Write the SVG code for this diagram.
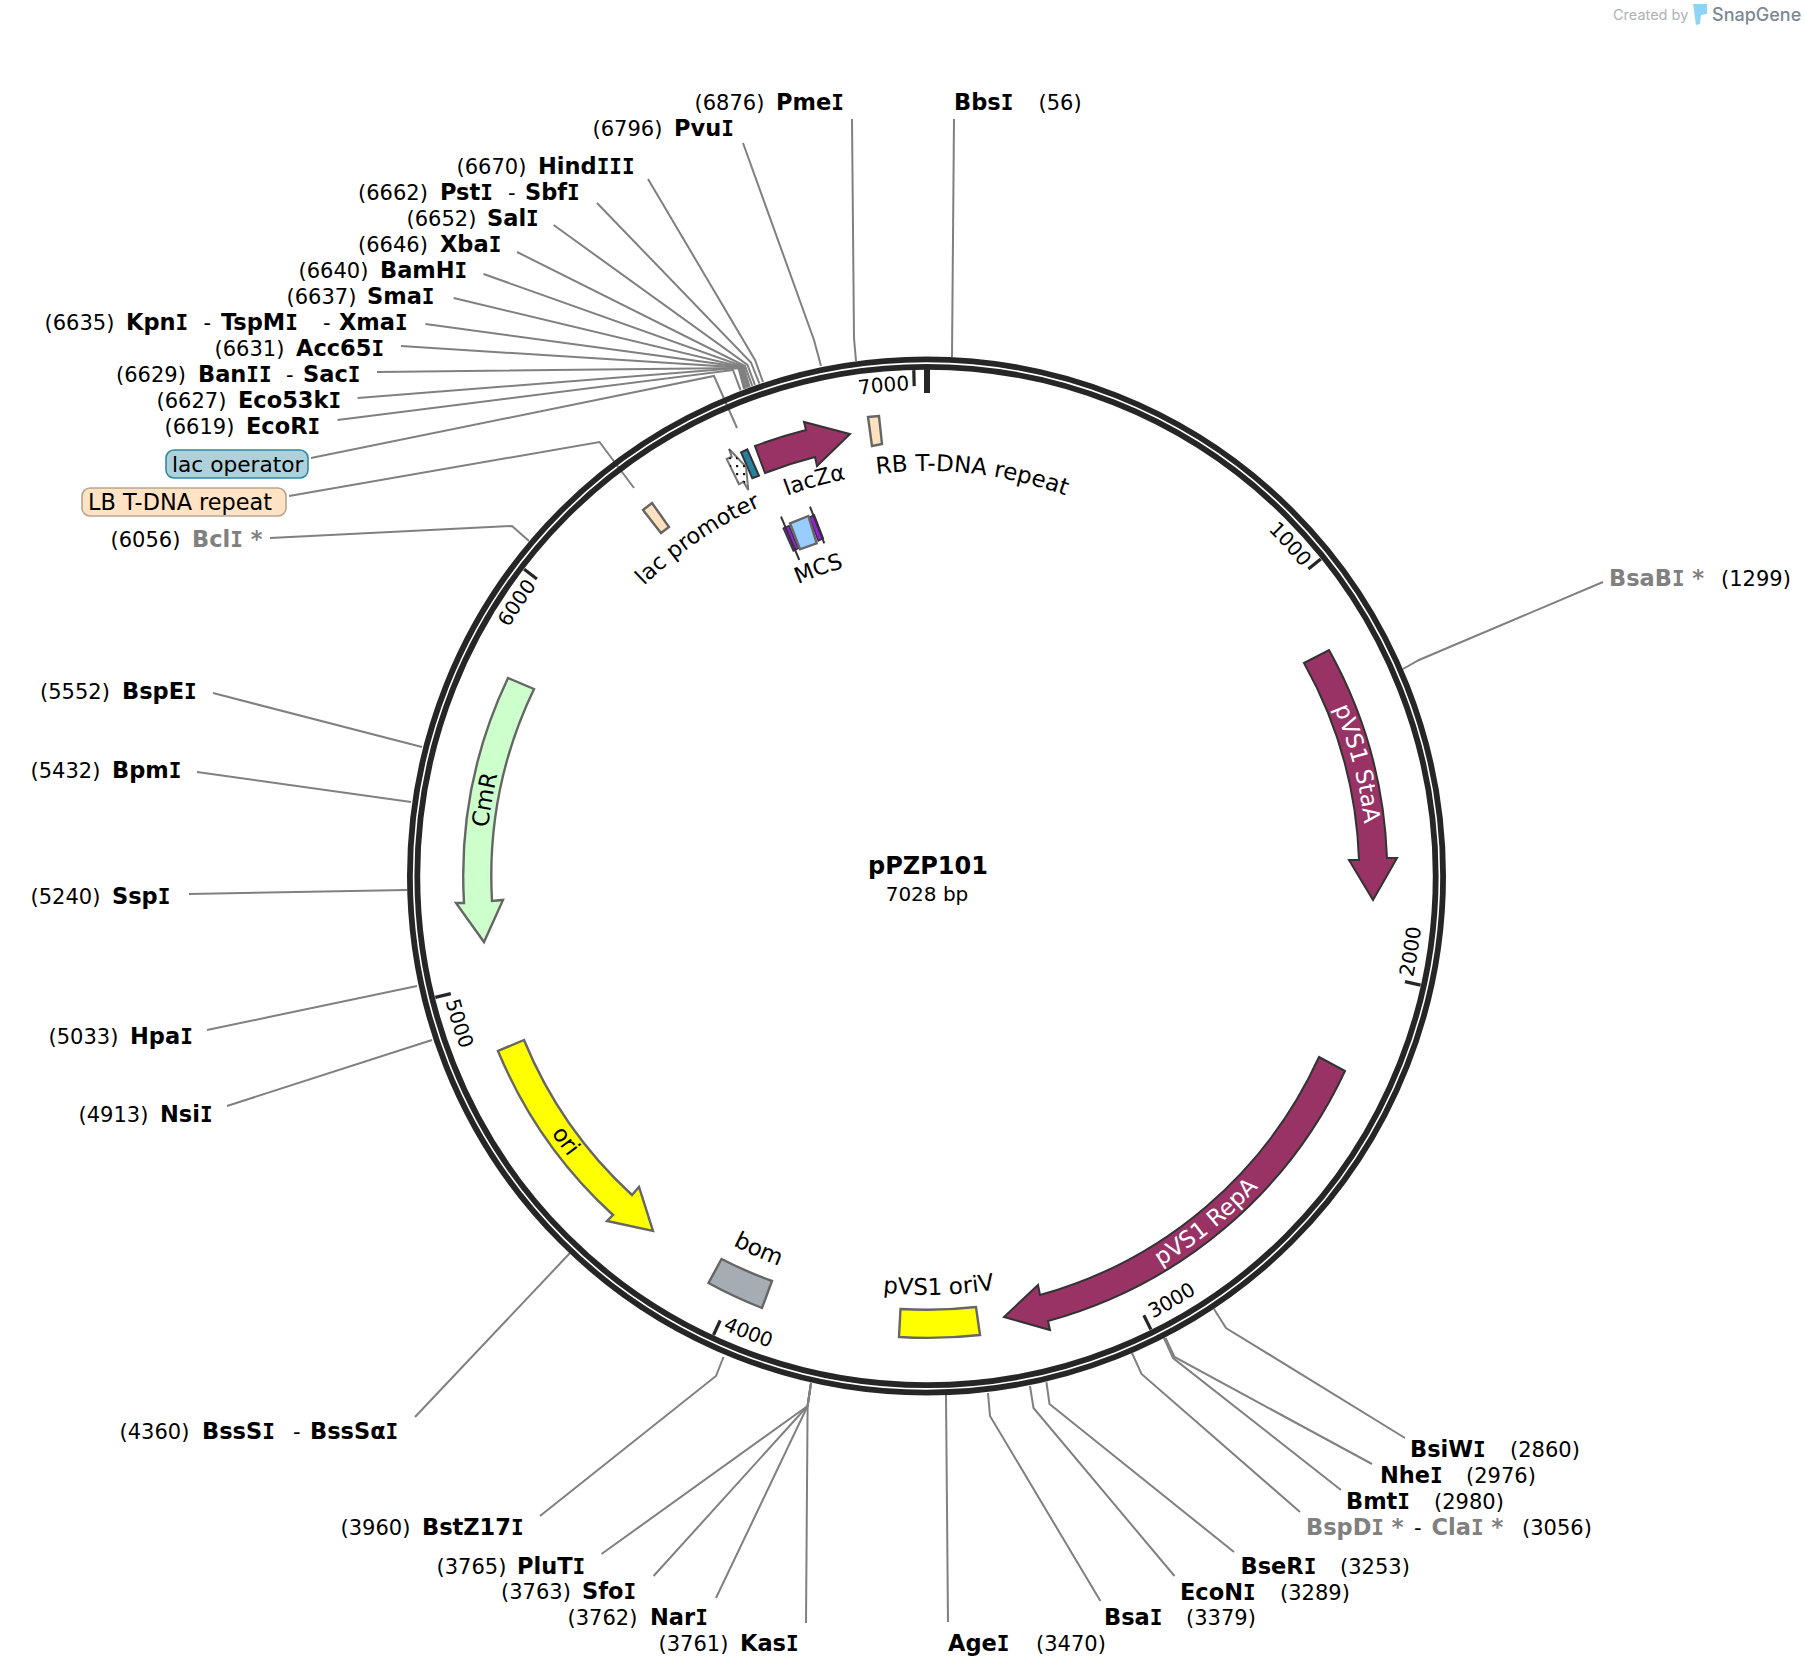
<svg xmlns="http://www.w3.org/2000/svg" width="1806" height="1678" viewBox="0 0 1806 1678">
<style>
text{font-family:"DejaVu Sans",Verdana,sans-serif;fill:#000}
.n{font-size:21px}
.b{font-size:22.5px;font-weight:700}
.b tspan{font-family:"DejaVu Sans Mono",monospace;font-size:21px}
.g{fill:#808080}
.f{font-size:23px}
.f2{font-size:22.2px}
.t{font-size:20px}
.m{text-anchor:middle}
.w{fill:#fff}
.lines polyline{fill:none;stroke:#808080;stroke-width:2}
.ring{fill:none;stroke:#262626;stroke-width:5.8}
.tick{stroke:#262626;stroke-width:3.2}
.gene{fill:#993366;stroke:#333;stroke-width:2}
.fe{stroke:#666;stroke-width:2.4}
</style>
<defs>
<path id="cw405" d="M521.5 876A405 405 0 0 1 1331.5 876"/>
<path id="cw319" d="M607.5 876A319 319 0 0 1 1245.5 876"/>
<path id="cw441" d="M485.5 876A441 441 0 0 1 1367.5 876"/>
<path id="cw486" d="M440.5 876A486 486 0 0 1 1412.5 876"/>
<path id="ccw417" d="M509.5 876A417 417 0 0 0 1343.5 876"/>
<path id="ccw419" d="M507.5 876A419 419 0 0 0 1345.5 876"/>
<path id="ccw455" d="M471.5 876A455 455 0 0 0 1381.5 876"/>
<path id="ccw497" d="M429.5 876A497 497 0 0 0 1423.5 876"/>
<pattern id="dots" width="7" height="8" patternUnits="userSpaceOnUse"><rect x="1" y="1" width="2.2" height="2.2" fill="#111"/></pattern>
</defs>
<rect width="1806" height="1678" fill="#fff"/>

<g id="connectors" class="lines">
<polyline points="954,119 952,357"/>
<polyline points="852,119 854,338 856,361"/>
<polyline points="743,143 814,340 821,366"/>
<polyline points="648,179 755,360 763,382"/>
<polyline points="597,203 751,362.5 759.4,383.6"/>
<polyline points="553.6,225 747.5,365 755,385"/>
<polyline points="517,252 745,366 752.3,386"/>
<polyline points="483.5,274 743.5,366.5 749.7,387"/>
<polyline points="453.6,298 742.5,367 748.4,387.5"/>
<polyline points="425.4,324 741.5,367 747.5,387.8"/>
<polyline points="401,346 740.5,367.5 745.8,388.4"/>
<polyline points="377,372 739.5,368 744.9,388.8"/>
<polyline points="357.6,398 738.5,368 744,389"/>
<polyline points="337.5,420 733,370 740.6,390.4"/>
<polyline points="311,458 714,376 737,428"/>
<polyline points="289,496 599.5,442 634,488"/>
<polyline points="270,538 512,526 529,541"/>
<polyline points="213,693 422,747"/>
<polyline points="197,772 411,802"/>
<polyline points="189,894 407,890"/>
<polyline points="207,1030 417,986"/>
<polyline points="227,1106 432,1040"/>
<polyline points="415,1417 570,1253"/>
<polyline points="540,1516 716,1376 723.5,1357"/>
<polyline points="601.5,1554 807.6,1406 811,1383"/>
<polyline points="653.6,1576 807.6,1406 811,1383"/>
<polyline points="716,1598 807.6,1406 811,1383"/>
<polyline points="806,1623 807.6,1406 811,1383"/>
<polyline points="948,1622 946,1395"/>
<polyline points="1100.4,1601 990,1416 988,1393"/>
<polyline points="1174.5,1576 1033.5,1408 1030,1386"/>
<polyline points="1234,1552 1049.5,1404 1046.4,1382"/>
<polyline points="1300,1512 1141.5,1374 1132,1353"/>
<polyline points="1341,1490 1173,1358 1164,1338"/>
<polyline points="1372,1464 1174.5,1357 1165.6,1338"/>
<polyline points="1405,1438 1226,1328 1214,1309"/>
<polyline points="1603,582 1419,660 1403,669"/>
</g>

<g id="backbone">
<circle class="ring" cx="926.5" cy="876" r="516.6"/>
<circle class="ring" cx="926.5" cy="876" r="509.2"/>
<line x1="927" y1="369" x2="927" y2="393" stroke="#262626" stroke-width="6"/>
<line class="tick" x1="913.8" y1="370.1" x2="914.2" y2="386.1"/>
<line class="tick" x1="1320.8" y1="558.9" x2="1308.4" y2="569"/>
<line class="tick" x1="1420.6" y1="985.1" x2="1405" y2="981.6"/>
<line class="tick" x1="1150.9" y1="1329.5" x2="1143.8" y2="1315.2"/>
<line class="tick" x1="713.5" y1="1335" x2="720.2" y2="1320.5"/>
<line class="tick" x1="435.3" y1="997.4" x2="450.8" y2="993.6"/>
<line class="tick" x1="524.2" y1="569.2" x2="536.9" y2="578.9"/>
<g class="t">
<text class="m" transform="rotate(-5 926.5 876)"><textPath href="#cw486" startOffset="50%">7000</textPath></text>
<text class="m" transform="rotate(47.6 926.5 876)"><textPath href="#cw486" startOffset="50%">1000</textPath></text>
<text class="m" transform="rotate(-81.15 926.5 876)"><textPath href="#ccw497" startOffset="50%">2000</textPath></text>
<text class="m" transform="rotate(-30 926.5 876)"><textPath href="#ccw497" startOffset="50%">3000</textPath></text>
<text class="m" transform="rotate(21.3 926.5 876)"><textPath href="#ccw497" startOffset="50%">4000</textPath></text>
<text class="m" transform="rotate(72.5 926.5 876)"><textPath href="#ccw497" startOffset="50%">5000</textPath></text>
<text class="m" transform="rotate(-56.3 926.5 876)"><textPath href="#cw486" startOffset="50%">6000</textPath></text>
</g>
</g>

<g id="center">
<text class="m" x="928" y="874" font-size="24" font-weight="700">pPZP101</text>
<text class="m" x="927" y="901" font-size="20">7028 bp</text>
</g>

<g id="pVS1-StaA">
<path class="gene" d="M1329 650A462 462 0 0 1 1387 858L1397 858L1373 900L1349 860L1359 860A434 434 0 0 0 1304 663Z"/>
<text class="f m w" transform="rotate(75.4 926.5 876)"><textPath href="#cw441" startOffset="50%">pVS1 StaA</textPath></text>
</g>
<g id="pVS1-RepA">
<path class="gene" d="M1345 1071A462 462 0 0 1 1048 1321L1050 1330L1004 1317L1038 1285L1040 1295A434 434 0 0 0 1319 1057Z"/>
<text class="f m w" transform="rotate(-38.9 926.5 876)"><textPath href="#ccw455" startOffset="50%">pVS1 RepA</textPath></text>
</g>
<g id="pVS1-oriV">
<path class="fe" fill="#ffff00" d="M900.5 1309A434 434 0 0 0 976 1307L980 1335A462 462 0 0 1 899 1337Z"/>
<text class="f m" transform="rotate(-1.7 926.5 876)"><textPath href="#ccw419" startOffset="50%">pVS1 oriV</textPath></text>
</g>
<g id="bom">
<path class="fe" fill="#a6acb3" d="M721.5 1259A434 434 0 0 0 772 1281L762 1308A462 462 0 0 1 708.5 1283Z"/>
<text class="f m" transform="rotate(24.2 926.5 876)"><textPath href="#ccw417" startOffset="50%">bom</textPath></text>
</g>
<g id="ori">
<path class="fe" fill="#ffff00" d="M498 1051A462 462 0 0 0 613 1215L607 1221L653 1231L639 1187L632 1195A434 434 0 0 1 524 1040Z"/>
<text class="f m" transform="rotate(53.7 926.5 876)"><textPath href="#ccw455" startOffset="50%">ori</textPath></text>
</g>
<g id="CmR">
<path class="fe" fill="#ccffcc" d="M508 678A462 462 0 0 0 464 903L456 903L484 942L503 900L492 901A434 434 0 0 1 534 689Z"/>
<text class="f m" transform="rotate(-80.2 926.5 876)"><textPath href="#cw441" startOffset="50%">CmR</textPath></text>
</g>
<g id="lacZa">
<path class="gene" d="M755 446A462 462 0 0 1 806 430L804 422L850 434L817 466L815 457A434 434 0 0 0 765 473Z"/>
<text class="f2 m" transform="rotate(-15.8 926.5 876)"><textPath href="#cw405" startOffset="50%">lacZα</textPath></text>
</g>
<g id="RB-T-DNA-repeat">
<path class="fe" fill="#ffe0bf" d="M868 417A462 462 0 0 1 879 416L882 444A434 434 0 0 0 872 446Z"/>
<text class="m" font-size="23" transform="rotate(6.5 926.5 876)"><textPath href="#cw405" startOffset="50%">RB T-DNA repeat</textPath></text>
</g>
<g id="LB-T-DNA-repeat">
<path class="fe" fill="#ffe0bf" d="M643 510L652 503L669 527L661 533Z"/>
<rect x="82" y="488" width="204" height="28" rx="8" fill="#ffe3c4" stroke="#b8a58e" stroke-width="1.6"/>
<text x="88" y="510" font-size="22.4">LB T-DNA repeat</text>
</g>
<g id="lac-operator">
<path fill="#2b7f9e" stroke="#333" stroke-width="2" d="M741 452.3L747.3 449.3L759 475.7L752.3 478.3Z"/>
<rect x="166" y="450" width="142" height="28" rx="8" fill="#add0da" stroke="#2e8aa6" stroke-width="1.6"/>
<text x="172" y="472" font-size="21.7">lac operator</text>
</g>
<g id="lac-promoter">
<path fill="#fff" stroke="#777" stroke-width="2" d="M726.7 459L731.7 456.7L729 449L746 466.7L748.3 490L743.3 481.7L739 484.3Z"/>
<path fill="url(#dots)" d="M726.7 459L731.7 456.7L729 449L746 466.7L748.3 490L743.3 481.7L739 484.3Z"/>
<text class="f2 m" transform="rotate(-34.2 926.5 876)"><textPath href="#cw405" startOffset="50%">lac promoter</textPath></text>
</g>
<g id="MCS">
<path fill="#9a1fe0" stroke="#333" stroke-width="1.5" d="M783.3 528.3L789 525.7L798.3 548.3L793.3 551Z"/>
<path fill="#9a1fe0" stroke="#333" stroke-width="1.5" d="M809.3 517.3L814.3 515L823.3 538.3L818.3 541Z"/>
<path fill="#99ccff" stroke="#666" stroke-width="2.4" d="M790 523.3L808.3 516L816.7 543.3L800 549.3Z"/>
<line x1="781" y1="516.7" x2="799.3" y2="560" stroke="#333" stroke-width="2"/>
<line x1="810" y1="506.7" x2="824.3" y2="543.3" stroke="#333" stroke-width="2"/>
<text class="f2 m" transform="rotate(-19.4 926.5 876)"><textPath href="#cw319" startOffset="50%">MCS</textPath></text>
</g>

<g id="sites">
<g id="PmeI"><text class="n" x="694.5" y="110">(6876)</text><text class="b" x="776" y="110">Pme<tspan>I</tspan></text></g>
<g id="BbsI"><text class="b" x="954" y="110">Bbs<tspan>I</tspan></text><text class="n" x="1038.5" y="110">(56)</text></g>
<g id="PvuI"><text class="n" x="592.5" y="136">(6796)</text><text class="b" x="674" y="136">Pvu<tspan>I</tspan></text></g>
<g id="HindIII"><text class="n" x="456.5" y="174">(6670)</text><text class="b" x="538" y="174">Hind<tspan>III</tspan></text></g>
<g id="PstI"><text class="n" x="358" y="200">(6662)</text><text class="b" x="440" y="200">Pst<tspan>I</tspan></text><text class="n" x="508" y="200">-</text><text class="b" x="525" y="200">Sbf<tspan>I</tspan></text></g>
<g id="SalI"><text class="n" x="406.5" y="226">(6652)</text><text class="b" x="487" y="226">Sal<tspan>I</tspan></text></g>
<g id="XbaI"><text class="n" x="358" y="252">(6646)</text><text class="b" x="440" y="252">Xba<tspan>I</tspan></text></g>
<g id="BamHI"><text class="n" x="298.5" y="278">(6640)</text><text class="b" x="380" y="278">BamH<tspan>I</tspan></text></g>
<g id="SmaI"><text class="n" x="286.5" y="304">(6637)</text><text class="b" x="367" y="304">Sma<tspan>I</tspan></text></g>
<g id="KpnI"><text class="n" x="44.5" y="330">(6635)</text><text class="b" x="126" y="330">Kpn<tspan>I</tspan></text><text class="n" x="203.5" y="330">-</text><text class="b" x="221" y="330">TspM<tspan>I</tspan></text><text class="n" x="323" y="330">-</text><text class="b" x="339" y="330">Xma<tspan>I</tspan></text></g>
<g id="Acc65I"><text class="n" x="214.5" y="356">(6631)</text><text class="b" x="296" y="356">Acc65<tspan>I</tspan></text></g>
<g id="BanII"><text class="n" x="116" y="382">(6629)</text><text class="b" x="198" y="382">Ban<tspan>II</tspan></text><text class="n" x="286" y="382">-</text><text class="b" x="303" y="382">Sac<tspan>I</tspan></text></g>
<g id="Eco53kI"><text class="n" x="156.5" y="408">(6627)</text><text class="b" x="238" y="408">Eco53k<tspan>I</tspan></text></g>
<g id="EcoRI"><text class="n" x="164.5" y="434">(6619)</text><text class="b" x="246" y="434">EcoR<tspan>I</tspan></text></g>
<g id="BclI"><text class="n" x="110.5" y="547">(6056)</text><text class="b g" x="192" y="547">Bcl<tspan>I</tspan> *</text></g>
<g id="BspEI"><text class="n" x="40" y="699">(5552)</text><text class="b" x="122" y="699">BspE<tspan>I</tspan></text></g>
<g id="BpmI"><text class="n" x="30.5" y="778">(5432)</text><text class="b" x="112" y="778">Bpm<tspan>I</tspan></text></g>
<g id="SspI"><text class="n" x="30.5" y="904">(5240)</text><text class="b" x="112" y="904">Ssp<tspan>I</tspan></text></g>
<g id="HpaI"><text class="n" x="48.5" y="1044">(5033)</text><text class="b" x="130" y="1044">Hpa<tspan>I</tspan></text></g>
<g id="NsiI"><text class="n" x="78.5" y="1122">(4913)</text><text class="b" x="160" y="1122">Nsi<tspan>I</tspan></text></g>
<g id="BssSI"><text class="n" x="119.5" y="1439">(4360)</text><text class="b" x="202" y="1439">BssS<tspan>I</tspan></text><text class="n" x="293" y="1439">-</text><text class="b" x="310" y="1439">BssSα<tspan>I</tspan></text></g>
<g id="BstZ17I"><text class="n" x="340.5" y="1535">(3960)</text><text class="b" x="422" y="1535">BstZ17<tspan>I</tspan></text></g>
<g id="PluTI"><text class="n" x="436.5" y="1574">(3765)</text><text class="b" x="517" y="1574">PluT<tspan>I</tspan></text></g>
<g id="SfoI"><text class="n" x="501" y="1599">(3763)</text><text class="b" x="582" y="1599">Sfo<tspan>I</tspan></text></g>
<g id="NarI"><text class="n" x="567.5" y="1625">(3762)</text><text class="b" x="650" y="1625">Nar<tspan>I</tspan></text></g>
<g id="KasI"><text class="n" x="658.5" y="1651">(3761)</text><text class="b" x="740" y="1651">Kas<tspan>I</tspan></text></g>
<g id="AgeI"><text class="b" x="948" y="1651">Age<tspan>I</tspan></text><text class="n" x="1036" y="1651">(3470)</text></g>
<g id="BsaI"><text class="b" x="1104" y="1625">Bsa<tspan>I</tspan></text><text class="n" x="1186" y="1625">(3379)</text></g>
<g id="EcoNI"><text class="b" x="1180" y="1600">EcoN<tspan>I</tspan></text><text class="n" x="1280" y="1600">(3289)</text></g>
<g id="BseRI"><text class="b" x="1240.5" y="1574">BseR<tspan>I</tspan></text><text class="n" x="1340" y="1574">(3253)</text></g>
<g id="BspDI"><text class="b g" x="1306" y="1535">BspD<tspan>I</tspan> *</text><text class="n" x="1414" y="1535">-</text><text class="b g" x="1431.5" y="1535">Cla<tspan>I</tspan> *</text><text class="n" x="1522" y="1535">(3056)</text></g>
<g id="BmtI"><text class="b" x="1346" y="1509">Bmt<tspan>I</tspan></text><text class="n" x="1434" y="1509">(2980)</text></g>
<g id="NheI"><text class="b" x="1380" y="1483">Nhe<tspan>I</tspan></text><text class="n" x="1466" y="1483">(2976)</text></g>
<g id="BsiWI"><text class="b" x="1410" y="1457">BsiW<tspan>I</tspan></text><text class="n" x="1510" y="1457">(2860)</text></g>
<g id="BsaBI"><text class="b g" x="1609" y="586">BsaB<tspan>I</tspan> *</text><text class="n" x="1721" y="586">(1299)</text></g>
</g>

<g id="brand">
<text x="1613" y="20" font-size="14.5" style="font-family:Inter,Roboto,sans-serif;fill:#aeb2b6">Created by</text>
<path fill="#8fd4f5" d="M1693 4H1707V14L1701 15L1700 24L1696 25Z"/>
<text x="1712" y="21" font-size="18" font-weight="500" style="font-family:Inter,Roboto,sans-serif;fill:#7b8893">SnapGene</text>
</g>
</svg>
